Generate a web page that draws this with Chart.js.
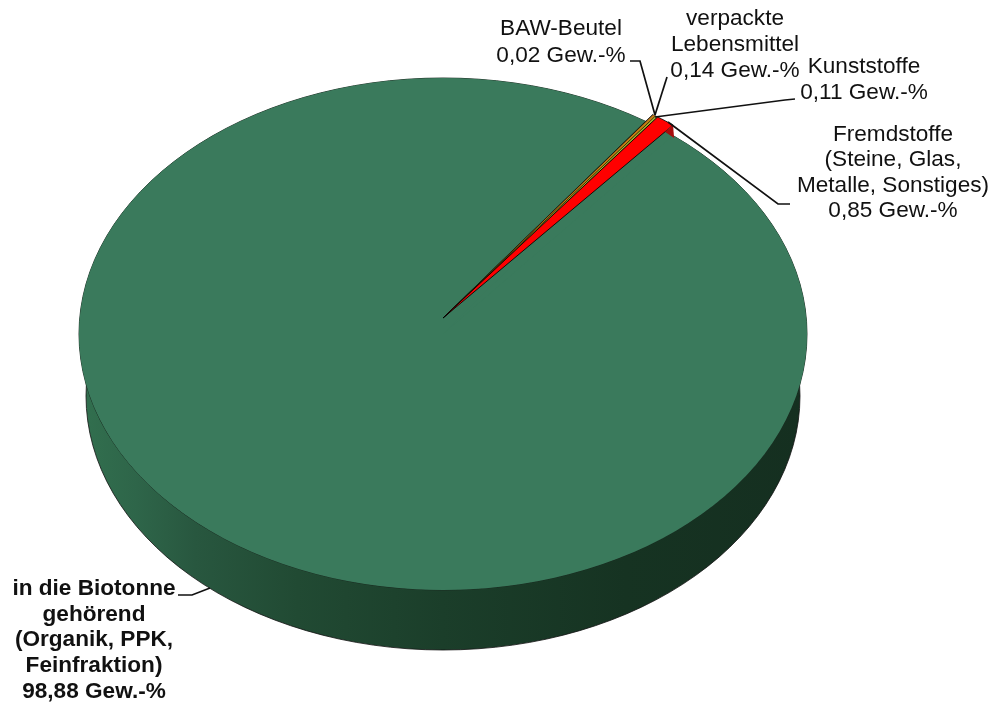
<!DOCTYPE html>
<html>
<head>
<meta charset="utf-8">
<style>
  html, body { margin: 0; padding: 0; background: #fff; }
  canvas { display: block; }
</style>
<script src="https://cdn.jsdelivr.net/npm/chart.js@4"></script>
</head>
<body>
<canvas id="myChart" width="993" height="702"></canvas>
<script>
// values
var categories = ["in die Biotonne gehörend", "BAW-Beutel", "verpackte Lebensmittel", "Kunststoffe", "Fremdstoffe"];
var values = [98.88, 0.02, 0.14, 0.11, 0.85];
var sliceColors = ["#3a7a5c", "#7a4a10", "#c87d12", "#a8b82a", "#ff0000"];
var sliceBorders = [0, 0.6, 0.6, 0.6, 1];

var labelLines = [
  ["BAW-Beutel", "0,02 Gew.-%"],
  ["verpackte", "Lebensmittel", "0,14 Gew.-%"],
  ["Kunststoffe", "0,11 Gew.-%"],
  ["Fremdstoffe", "(Steine, Glas,", "Metalle, Sonstiges)", "0,85 Gew.-%"],
  ["in die Biotonne", "gehörend", "(Organik, PPK,", "Feinfraktion)", "98,88 Gew.-%"]
];

// layout of the labels: centre x, first baseline, line height, bold
var labelPlaces = [
  [561, 35, 27, false],
  [735, 25, 26, false],
  [864, 73, 26, false],
  [893, 141, 25.4, false],
  [94, 595, 25.7, true]
];
var leaders = [
  [[630, 61], [640, 61], [655, 115]],
  [[667, 77], [655, 115]],
  [[795, 99], [785, 100], [655, 117]],
  [[790, 204], [778, 204], [668, 122]],
  [[178, 595], [192, 595], [210, 588]]
];

// pretend-3D: top ellipse, lower ellipse and the apex of the thin slices
var faceY = 334, faceScale = 256 / 364;
var apexY = 318, apexScale = 0.684;
var depth = 62, lowerInset = 7, lowerRy = 254;

var pie3d = {
  id: "pie3d",
  beforeDatasetsDraw: function (chart) {
    var ctx = chart.ctx;
    var arc = chart.getDatasetMeta(0).data[0];
    var r = arc.outerRadius;
    var grad = ctx.createLinearGradient(arc.x - r, 0, arc.x + r, 0);
    grad.addColorStop(0, "#32704f");
    grad.addColorStop(0.08, "#2e6549");
    grad.addColorStop(0.16, "#28573f");
    grad.addColorStop(0.3, "#214a33");
    grad.addColorStop(0.5, "#1b3e2a");
    grad.addColorStop(0.75, "#163322");
    grad.addColorStop(1, "#152f20");

    // side wall
    ctx.save();
    ctx.beginPath();
    ctx.ellipse(arc.x, faceY + depth, r - lowerInset, lowerRy, 0, 0, Math.PI * 2);
    ctx.fillStyle = grad;
    ctx.fill();
    ctx.lineWidth = 0.8;
    ctx.strokeStyle = "#111";
    ctx.stroke();

    // whole top face, so the gap of the big slice never shows
    ctx.beginPath();
    ctx.ellipse(arc.x, faceY, r, r * faceScale, 0, 0, Math.PI * 2);
    ctx.fillStyle = sliceColors[0];
    ctx.fill();
    ctx.lineWidth = 0.9;
    ctx.strokeStyle = "#1a2a20";
    ctx.stroke();
    ctx.restore();
  },
  beforeDatasetDraw: function (chart, args) {
    var ctx = chart.ctx;
    args.meta.data.forEach(function (arc, i) {
      ctx.save();
      if (i === 0) {
        ctx.translate(0, faceY);
        ctx.scale(1, faceScale);
        ctx.translate(0, -arc.y);
      } else {
        ctx.translate(0, apexY);
        ctx.scale(1, apexScale);
        ctx.translate(0, -arc.y);
      }
      arc.draw(ctx);
      ctx.restore();
    });
    // small wall at the rim of the red slice
    var red = args.meta.data[4];
    var a = red.endAngle, r = red.outerRadius;
    var px = function (f) { return red.x + f * r * Math.cos(a); };
    var py = function (f) { return apexY + f * r * apexScale * Math.sin(a); };
    ctx.save();
    ctx.beginPath();
    ctx.moveTo(px(1), py(1));
    ctx.lineTo(px(0.965), py(0.965));
    ctx.lineTo(px(1) + 1, py(1) + 13);
    ctx.closePath();
    ctx.fillStyle = "#a80c0c";
    ctx.fill();
    ctx.restore();
    return false;
  },
  afterDraw: function (chart) {
    var ctx = chart.ctx;
    ctx.save();
    ctx.strokeStyle = "#111";
    ctx.lineWidth = 1.7;
    leaders.forEach(function (pts) {
      ctx.beginPath();
      pts.forEach(function (p, i) {
        if (i === 0) ctx.moveTo(p[0], p[1]); else ctx.lineTo(p[0], p[1]);
      });
      ctx.stroke();
    });
    ctx.fillStyle = "#111";
    ctx.textAlign = "center";
    ctx.textBaseline = "alphabetic";
    labelLines.forEach(function (lines, i) {
      var place = labelPlaces[i];
      ctx.font = (place[3] ? "bold " : "") + "22.6px 'Liberation Sans'";
      lines.forEach(function (line, k) {
        ctx.fillText(line, place[0], place[1] + k * place[2]);
      });
    });
    ctx.restore();
  }
};

new Chart("myChart", {
  type: "pie",
  plugins: [pie3d],
  data: {
    labels: categories,
    datasets: [{
      data: values,
      backgroundColor: sliceColors,
      borderColor: "#000",
      borderWidth: sliceBorders,
      clip: false
    }]
  },
  options: {
    responsive: false,
    animation: false,
    rotation: 39.2,
    radius: 364,
    layout: { padding: { right: 107, bottom: 34 } },
    plugins: {
      legend: { display: false },
      tooltip: { enabled: false }
    }
  }
});
</script>
</body>
</html>
